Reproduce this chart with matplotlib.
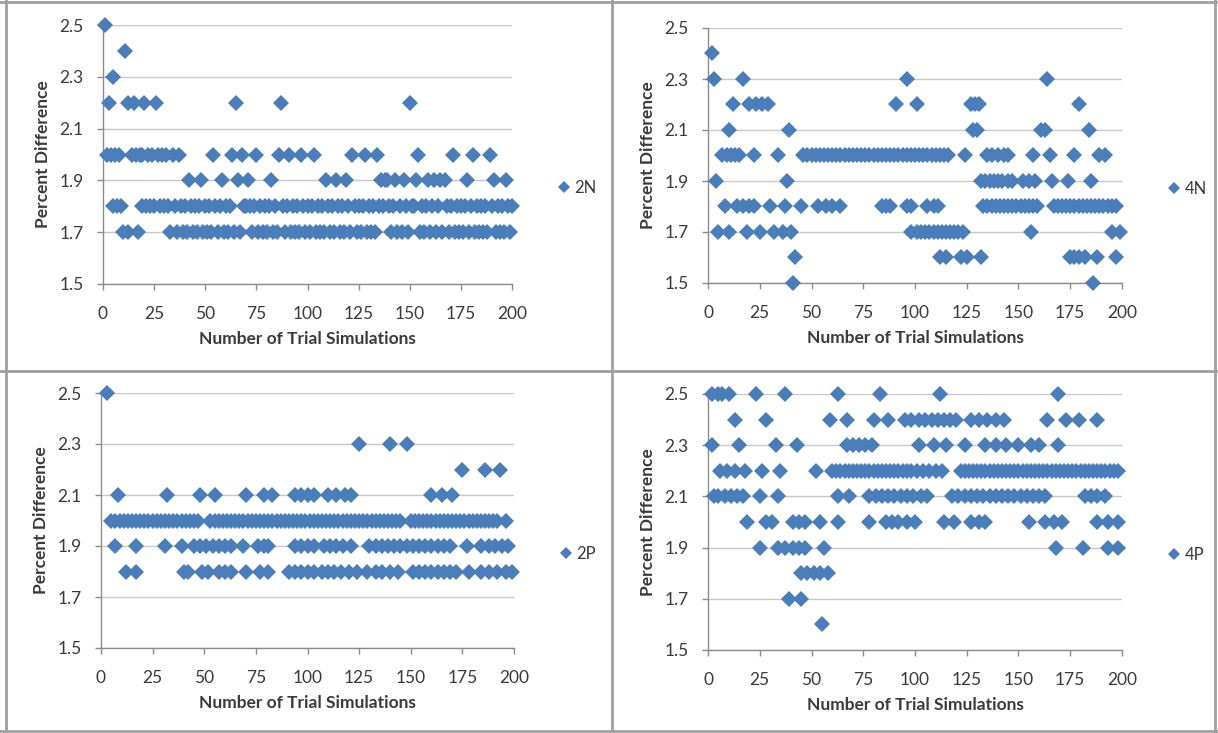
import numpy as np
import matplotlib.pyplot as plt
from matplotlib.lines import Line2D

plt.rcParams['font.family'] = ['Lato', 'DejaVu Sans']

# ---------------------------------------------------------------------------
# Percent difference per trial simulation, grouped by value.
# ---------------------------------------------------------------------------
N2_LEVELS = [2.5, 2.4, 2.3, 2.2, 2.0, 1.9, 1.8, 1.7]
N2_TRIALS = [
    [1],
    [11],
    [5],
    [3, 12, 15, 20, 26, 65, 87, 150],
    [2, 4, 6, 8, 14, 16, 18, 19, 22, 24, 27, 29, 31, 34, 37, 54, 63, 68, 75, 86,
     91, 97, 103, 122, 128, 134, 154, 171, 181, 189],
    [42, 48, 58, 66, 71, 82, 109, 114, 119, 136, 138, 139, 143, 147, 153, 159,
     162, 165, 167, 178, 191, 197],
    [5, 7, 9, 19, 21, 23, 25, 28, 30, 32, 35, 38, 40, 43, 45, 47, 50, 52, 55, 57,
     60, 62, 69, 70, 72, 74, 77, 79, 81, 84, 88, 90, 93, 95, 98, 100, 102, 105,
     107, 110, 112, 115, 117, 120, 123, 125, 127, 130, 132, 135, 137, 140, 142,
     145, 148, 151, 152, 156, 158, 161, 164, 168, 170, 173, 175, 177, 180, 183,
     185, 187, 190, 193, 195, 198, 200],
    [10, 12, 17, 33, 36, 39, 41, 44, 46, 49, 51, 53, 56, 59, 61, 64, 67, 73, 76,
     78, 80, 83, 85, 89, 92, 94, 96, 99, 101, 104, 106, 108, 111, 113, 116, 118,
     121, 124, 126, 129, 131, 133, 141, 144, 146, 149, 155, 157, 160, 163, 166,
     169, 172, 174, 176, 179, 182, 184, 186, 188, 192, 194, 196, 199],
]

N4_LEVELS = [2.4, 2.3, 2.2, 2.1, 2.0, 1.9, 1.8, 1.7, 1.6, 1.5]
N4_TRIALS = [
    [2],
    [3, 17, 96, 164],
    [12, 20, 23, 26, 29, 91, 101, 127, 129, 131, 179],
    [10, 39, 128, 130, 161, 163, 184],
    [7, 9, 11, 13, 15, 22, 34, 46, 48, 50, 52, 54, 56, 58, 60, 62, 64, 66, 68,
     70, 72, 74, 76, 78, 80, 82, 84, 86, 88, 90, 92, 94, 96, 98, 100, 102, 104,
     106, 108, 110, 112, 114, 116, 124, 135, 137, 140, 143, 145, 157, 165, 177,
     189, 192],
    [4, 38, 132, 134, 136, 138, 140, 142, 145, 147, 152, 155, 158, 166, 174, 185],
    [8, 14, 17, 20, 22, 30, 37, 45, 53, 57, 60, 64, 84, 86, 88, 96, 98, 106, 109,
     111, 133, 135, 137, 139, 141, 143, 145, 147, 149, 151, 153, 155, 157, 159,
     167, 169, 171, 173, 175, 177, 179, 181, 183, 185, 187, 189, 191, 193, 195,
     197],
    [5, 10, 19, 25, 32, 36, 40, 98, 101, 103, 105, 107, 109, 111, 113, 115, 117,
     119, 121, 123, 156, 195, 199],
    [42, 112, 115, 122, 125, 132, 175, 177, 179, 182, 188, 197],
    [41, 186],
]

P2_LEVELS = [2.5, 2.3, 2.2, 2.1, 2.0, 1.9, 1.8]
P2_TRIALS = [
    [3],
    [125, 140, 148],
    [175, 186, 193],
    [8, 32, 48, 55, 70, 79, 83, 94, 97, 100, 103, 110, 114, 118, 121, 160, 165,
     170],
    [5, 7, 9, 11, 13, 15, 17, 19, 21, 23, 25, 27, 29, 31, 33, 35, 37, 39, 41, 43,
     45, 47, 53, 55, 57, 59, 61, 63, 65, 67, 69, 71, 73, 75, 77, 79, 81, 83, 85,
     87, 89, 91, 93, 95, 97, 99, 101, 103, 105, 107, 109, 111, 113, 115, 117,
     119, 121, 123, 125, 127, 129, 131, 133, 135, 137, 139, 141, 143, 145, 150,
     152, 154, 156, 158, 160, 162, 164, 166, 168, 170, 172, 174, 176, 178, 180,
     182, 184, 186, 188, 190, 192, 196],
    [7, 17, 31, 39, 45, 48, 51, 54, 57, 60, 63, 69, 76, 79, 81, 94, 97, 100, 103,
     108, 111, 114, 117, 121, 130, 133, 136, 139, 142, 145, 148, 151, 154, 157,
     160, 163, 166, 169, 177, 184, 188, 191, 194, 197],
    [12, 17, 40, 42, 49, 52, 57, 60, 63, 70, 77, 81, 91, 94, 97, 100, 103, 107,
     110, 113, 116, 120, 124, 129, 133, 136, 140, 144, 151, 154, 157, 160, 163,
     166, 169, 172, 178, 184, 188, 192, 196, 199],
]

P4_LEVELS = [2.5, 2.4, 2.3, 2.2, 2.1, 2.0, 1.9, 1.8, 1.7, 1.6]
P4_TRIALS = [
    [2, 5, 7, 10, 23, 37, 63, 83, 112, 169],
    [13, 28, 59, 67, 80, 87, 95, 98, 102, 105, 108, 111, 114, 117, 120, 127, 131,
     135, 139, 143, 164, 173, 179, 188],
    [2, 15, 33, 43, 67, 70, 73, 76, 79, 102, 109, 115, 124, 134, 139, 144, 150,
     156, 160, 169],
    [6, 9, 13, 18, 26, 35, 52, 60, 62, 64, 66, 68, 70, 72, 74, 76, 78, 80, 82, 84,
     86, 88, 90, 92, 94, 96, 98, 101, 104, 107, 110, 113, 122, 124, 126, 128,
     130, 132, 134, 136, 138, 140, 142, 144, 146, 148, 150, 152, 154, 156, 158,
     160, 162, 164, 166, 168, 170, 172, 174, 176, 178, 180, 182, 184, 186, 188,
     190, 192, 194, 196, 198],
    [3, 5, 8, 11, 14, 17, 25, 34, 63, 68, 78, 81, 84, 87, 90, 93, 96, 99, 103,
     106, 118, 121, 124, 127, 130, 133, 136, 139, 142, 145, 148, 151, 154, 157,
     160, 163, 182, 185, 188, 192],
    [19, 28, 31, 41, 44, 47, 54, 63, 78, 86, 89, 92, 96, 100, 114, 119, 127, 131,
     134, 155, 163, 167, 171, 188, 193, 198],
    [25, 34, 37, 41, 44, 47, 56, 168, 181, 193, 198],
    [45, 48, 51, 54, 58],
    [39, 45],
    [55],
]

PANELS = [
    ("2N", N2_LEVELS, N2_TRIALS, (103, 512, 25, 284)),
    ("4N", N4_LEVELS, N4_TRIALS, (708, 1122, 28, 283)),
    ("2P", P2_LEVELS, P2_TRIALS, (101, 514, 393, 648)),
    ("4P", P4_LEVELS, P4_TRIALS, (708, 1122, 394, 650)),
]

W, H = 1218, 733
BLUE = "#4A7EBB"
GRID = "#c8c8c8"
AXIS = "#8c8c8c"
TEXT = "#3a3a3a"
FS = 12.5

fig = plt.figure(figsize=(W / 100, H / 100), dpi=100)
fig.patch.set_facecolor("white")

for name, levels, trials, (l, r, t, b) in PANELS:
    ax = fig.add_axes([l / W, 1 - b / H, (r - l) / W, (b - t) / H])
    xs, ys = [], []
    for lev, xl in zip(levels, trials):
        xs.extend(xl)
        ys.extend([lev] * len(xl))
    ax.plot(xs, ys, "D", color=BLUE, ms=8.2, mew=0, label=name, zorder=3,
            clip_on=False)

    ax.set_xlim(0, 200)
    ax.set_ylim(1.5, 2.5)
    ax.set_xticks(np.arange(0, 201, 25))
    ax.set_yticks(np.arange(1.5, 2.51, 0.2))
    ax.set_yticklabels([f"{v:.1f}" for v in np.arange(1.5, 2.51, 0.2)])
    ax.yaxis.grid(True, color=GRID, lw=1.0, zorder=0)
    ax.set_axisbelow(True)
    for s in ("top", "right"):
        ax.spines[s].set_visible(False)
    for s in ("left", "bottom"):
        ax.spines[s].set_color(AXIS)
        ax.spines[s].set_linewidth(1.0)
    ax.tick_params(axis="both", direction="out", length=4, width=1,
                   color=AXIS, labelsize=FS, labelcolor=TEXT)
    ax.tick_params(axis="x", pad=12)
    ax.tick_params(axis="y", pad=10)
    ax.set_xlabel("Number of Trial Simulations", fontsize=FS,
                  fontweight="bold", color=TEXT, labelpad=6)
    ax.set_ylabel("Percent Difference", fontsize=FS, fontweight="bold",
                  color=TEXT, labelpad=6)

    leg = ax.legend(loc="center left", bbox_to_anchor=(1.075, 0.37),
                    frameon=False, handlelength=0.7, handletextpad=0.3,
                    markerscale=0.7, fontsize=12)
    for txt in leg.get_texts():
        txt.set_color(TEXT)

# panel frames
frame = dict(color="#a0a0a0", lw=2, transform=fig.transFigure)
fig.add_artist(Line2D([612 / W, 612 / W], [0, 1], **frame))
fig.add_artist(Line2D([0, 1], [1 - 371 / H, 1 - 371 / H], **frame))
fig.add_artist(Line2D([6 / W, 6 / W], [0, 1], **frame))
fig.add_artist(Line2D([0, 1], [1 - 731 / H, 1 - 731 / H], **frame))
fig.add_artist(Line2D([0, 1], [1 - 2 / H, 1 - 2 / H], **frame))
fig.add_artist(Line2D([1215 / W, 1215 / W], [0, 1], **frame))

fig.savefig("out.png", dpi=100)
